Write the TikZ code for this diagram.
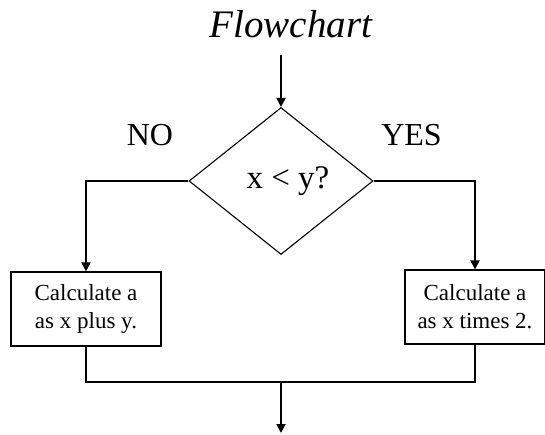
\documentclass[tikz,border=0pt]{standalone}
\usepackage{fontspec}
\setmainfont{Liberation Serif}
\usetikzlibrary{shapes.geometric,arrows.meta}
\tikzset{
  conn/.style={line width=1.8pt},
  arr/.style={conn,-{Triangle[length=9pt,width=9pt]}},
  procbox/.style={draw,line width=1.1pt,inner sep=0pt,align=center,font=\fontsize{23}{28}\selectfont},
  decide/.style={draw,shape=diamond,line width=1.1pt,inner sep=0pt,minimum width=184pt,minimum height=147pt,font=\fontsize{33}{36}\selectfont},
  lbl/.style={font=\fontsize{32}{34}\selectfont,inner sep=0pt,anchor=base},
}
\begin{document}
\begin{tikzpicture}[x=1pt,y=-1pt]
\useasboundingbox (0,0) rectangle (545,434);
\node[font=\fontsize{39}{41}\selectfont\itshape,inner sep=0pt,anchor=base] (title) at (291,37) {Flowchart};
\coordinate (start) at (281,55);
\node[decide] (d) at (281,181) {\hspace*{14pt}x < y?};
\node[procbox,minimum width=150pt,minimum height=74pt] (lb) at (86,309) {Calculate a\\as x plus y.};
\node[procbox,minimum width=140pt,minimum height=74pt] (rb) at (475,307) {Calculate a\\as x times 2.};
\node[lbl] (no) at (150,145) {NO};
\node[lbl] (yes) at (411.5,145) {YES};
\coordinate (j) at (281,382);
\coordinate (end) at (281,433);
\draw[arr] (start) -- (d.north);
\draw[arr] (d.west) -| (lb.north);
\draw[arr] (d.east) -| (rb.north);
\draw[conn] (lb.south) |- (j);
\draw[conn] (rb.south) |- (j);
\draw[arr] (j) -- (end);
\end{tikzpicture}
\end{document}
